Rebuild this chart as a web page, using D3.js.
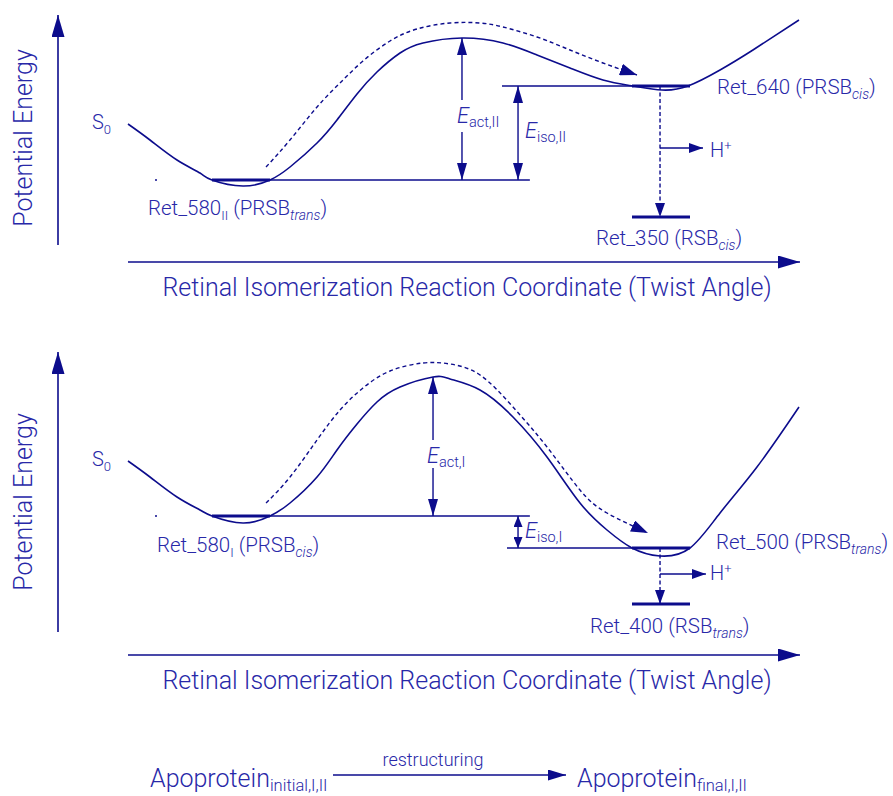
<!DOCTYPE html>
<html><head><meta charset="utf-8">
<script src="https://cdn.jsdelivr.net/npm/d3@7"></script>
<style>body{margin:0;background:#fff}svg{display:block}</style>
</head><body><svg id="c" width="893" height="796"></svg>
<script>
// ---------------- data (reaction coordinate 0..100, energy in arbitrary units) ----------------
const coordDomain = [0, 100];
const energyDomainII = [0, 115];
const energyDomainI = [0, 140];

// Panel II (upper): ground-state potential energy surface S0
const surfaceII = [[0,60.5],[3.27,52.5],[7.29,42.5],[10.71,36],[12.5,32.5],[17.11,29.5],[21.13,32.5],[24.11,39],[28.13,51],[31.1,62.5],[34.08,75.5],[37.05,86.5],[40.48,96],[43.9,101],[49.7,103.5],[55.8,101],[60.86,95],[65.77,88.5],[70.68,82.5],[75.15,79.5],[79.46,77.5],[83.33,79.5],[88.1,87.5],[93.0,97.5],[99.85,112.5]];
// reaction path (dashed arrow) II
const pathII = [[20.54,39],[24.1,52.5],[28.13,69],[31.55,81],[34.97,92],[38.99,102],[43.0,108],[47.92,111],[52.38,111],[55.8,109],[60.86,104],[65.77,97.5],[70.68,91],[75.74,85]];
// levels II: energy, start, end, thick bar start/end
const levelsII = [
  {E:32.5, x0:12.5, x1:59.8, b0:12.5, b1:21.13},
  {E:79.5, x0:55.65, x1:83.63, b0:75, b1:83.63},
  {E:14,   x0:75, x1:83.63, b0:75, b1:83.63}
];
const barrierII = {x:49.7, lo:32.5, hi:103.5, gapLo:56.5, gapHi:72.5};
const isoII = {x:58.04, lo:32.5, hi:79.5};
const deprotII = {x:79.17, from:79.5, to:14, hE:48.5, hTo:85.57};

// Panel I (lower)
const surfaceI = [[0,85.5],[3.27,77.5],[7.29,67.5],[10.71,61],[12.5,58],[17.11,54.5],[21.13,58],[24.11,64.5],[28.13,77.5],[31.1,91],[34.08,104],[37.05,115],[40.48,122.5],[45.39,127.5],[47.92,126.5],[52.38,121],[57.29,107.5],[62.35,87.5],[67.26,64.5],[71.28,51],[75,42],[79.17,38],[83.63,42],[88.1,59.5],[93.6,82.5],[99.85,112.5]];
const pathI = [[20.54,64.5],[24.11,77.5],[28.13,96],[31.55,111],[34.97,122],[38.99,130.5],[43.9,134.5],[47.92,134],[52.38,128.5],[57.29,112.5],[62.35,92.5],[67.26,71],[71.28,59.5],[77.38,49.5]];
const levelsI = [
  {E:58, x0:12.5, x1:59.8, b0:12.5, b1:21.13},
  {E:42, x0:56.4, x1:83.63, b0:75, b1:83.63},
  {E:14, x0:75, x1:83.63, b0:75, b1:83.63}
];
const barrierI = {x:45.39, lo:58, hi:127.5, gapLo:82, gapHi:96};
const isoI = {x:58.04, lo:58, hi:42};
const deprotI = {x:79.17, from:42, to:14, hE:29, hTo:86};
const dotX = 4.17;

// texts
const yTitle = "Potential Energy";
const xTitle = "Retinal Isomerization Reaction Coordinate (Twist Angle)";

// ---------------- drawing ----------------
const INK = "#0c0c8c", TXT = "#2828a8";
const FONT = "Roboto, 'Liberation Sans', Arial, sans-serif";
const svg = d3.select("#c").attr("font-family", FONT).attr("font-weight", 300);
const defs = svg.append("defs");
function marker(id, len, hw) {
  defs.append("marker").attr("id", id)
    .attr("viewBox", `0 ${-hw} ${len} ${2*hw}`)
    .attr("refX", len).attr("refY", 0)
    .attr("markerWidth", len).attr("markerHeight", 2*hw)
    .attr("markerUnits", "userSpaceOnUse")
    .attr("orient", "auto-start-reverse")
    .append("path").attr("d", `M0,${-hw}L${len},0L0,${hw}Z`).attr("fill", INK);
}
marker("axis", 22, 6.5); marker("gap", 17, 5); marker("small", 14, 5); marker("pth", 17, 6); marker("foot", 18, 5.5); marker("isoS", 11, 4.5);

function rich(g, x, y, parts, size, opts) {
  opts = opts || {};
  const t = g.append("text").attr("x", x).attr("y", y).attr("font-size", size)
    .attr("fill", TXT).attr("text-anchor", opts.anchor || "start");
  if (opts.transform) t.attr("transform", opts.transform);
  let cur = 0;
  parts.forEach(p => {
    const target = p.shift || 0;
    const s = t.append("tspan").text(p.t).attr("dy", target - cur);
    cur = target;
    if (p.size) s.attr("font-size", p.size);
    if (p.it) s.attr("font-style", "italic");
  });
  return t;
}

const x = d3.scaleLinear().domain(coordDomain).range([128, 800]);

function panel(cfg) {
  const g = svg.append("g");
  const y = d3.scaleLinear().domain(cfg.energyDomain).range([cfg.bottom, cfg.top]);
  // axes
  g.append("line").attr("x1", 58).attr("x2", 58).attr("y1", y(cfg.energyDomain[0])).attr("y2", y(cfg.energyDomain[1]))
    .attr("stroke", INK).attr("stroke-width", 1.6).attr("marker-end", "url(#axis)");
  g.append("line").attr("x1", x(coordDomain[0])).attr("x2", x(coordDomain[1])).attr("y1", cfg.xAxisY).attr("y2", cfg.xAxisY)
    .attr("stroke", INK).attr("stroke-width", 1.6).attr("marker-end", "url(#axis)");
  rich(g, 0, 0, [{t: yTitle}], 25, {anchor: "middle", transform: `translate(32,${cfg.yTitleY}) rotate(-90)`});
  rich(g, 467, cfg.xAxisY + 34, [{t: xTitle}], 25, {anchor: "middle"});

  const line = d3.line().x(d => x(d[0])).y(d => y(d[1])).curve(d3.curveNatural);
  // levels
  cfg.levels.forEach(l => {
    g.append("line").attr("x1", x(l.x0)).attr("x2", x(l.x1)).attr("y1", y(l.E)).attr("y2", y(l.E))
      .attr("stroke", INK).attr("stroke-width", 1.4);
    g.append("line").attr("x1", x(l.b0)).attr("x2", x(l.b1)).attr("y1", y(l.E)).attr("y2", y(l.E))
      .attr("stroke", INK).attr("stroke-width", 3);
  });
  g.append("circle").attr("cx", x(dotX)).attr("cy", y(cfg.levels[0].E)).attr("r", 1).attr("fill", INK);
  // surface
  g.append("path").attr("d", line(cfg.surface)).attr("fill", "none").attr("stroke", INK).attr("stroke-width", 1.6);
  // reaction path
  g.append("path").attr("d", line(cfg.path)).attr("fill", "none").attr("stroke", INK).attr("stroke-width", 1.4)
    .attr("stroke-dasharray", "4,3").attr("marker-end", "url(#pth)");
  // barrier arrow with gap
  const b = cfg.barrier;
  g.append("line").attr("x1", x(b.x)).attr("x2", x(b.x)).attr("y1", y(b.gapHi)).attr("y2", y(b.hi))
    .attr("stroke", INK).attr("stroke-width", 1.4).attr("marker-end", "url(#gap)");
  g.append("line").attr("x1", x(b.x)).attr("x2", x(b.x)).attr("y1", y(b.gapLo)).attr("y2", y(b.lo))
    .attr("stroke", INK).attr("stroke-width", 1.4).attr("marker-end", "url(#gap)");
  // isomerization energy arrow
  const i = cfg.iso;
  g.append("line").attr("x1", x(i.x)).attr("x2", x(i.x)).attr("y1", y(i.lo)).attr("y2", y(i.hi))
    .attr("stroke", INK).attr("stroke-width", 1.4).attr("marker-start", "url(#" + cfg.isoMarker + ")").attr("marker-end", "url(#" + cfg.isoMarker + ")");
  // deprotonation
  const d = cfg.deprot;
  g.append("line").attr("x1", x(d.x)).attr("x2", x(d.x)).attr("y1", y(d.from)).attr("y2", y(d.to))
    .attr("stroke", INK).attr("stroke-width", 1.4).attr("stroke-dasharray", "4,2.5").attr("marker-end", "url(#small)");
  g.append("line").attr("x1", x(d.x)).attr("x2", x(d.hTo)).attr("y1", y(d.hE)).attr("y2", y(d.hE))
    .attr("stroke", INK).attr("stroke-width", 1.4).attr("marker-end", "url(#small)");
  cfg.labels(g);
}

panel({
  energyDomain: energyDomainII, bottom: 245, top: 15, xAxisY: 262, yTitleY: 138,
  surface: surfaceII, path: pathII, levels: levelsII, barrier: barrierII, iso: isoII, deprot: deprotII, isoMarker: "gap",
  labels: g => {
    rich(g, 92, 129, [{t:"S"},{t:"0", size:13, shift:5}], 20);
    rich(g, 148, 215, [{t:"Ret_580"},{t:"II", size:13, shift:5},{t:" (PRSB"},{t:"trans", size:14, shift:5, it:true},{t:")"}], 20.5);
    rich(g, 717, 94, [{t:"Ret_640 (PRSB"},{t:"cis", size:14, shift:5, it:true},{t:")"}], 20.5);
    rich(g, 596, 245, [{t:"Ret_350 (RSB"},{t:"cis", size:14, shift:5, it:true},{t:")"}], 20.5);
    rich(g, 710, 157, [{t:"H"},{t:"+", size:13, shift:-7}], 20);
    rich(g, 457, 123, [{t:"E", it:true},{t:"act,II", size:14.5, shift:4}], 21.5);
    rich(g, 525, 138, [{t:"E", it:true},{t:"iso,II", size:14.5, shift:4}], 21.5);
  }
});

panel({
  energyDomain: energyDomainI, bottom: 632, top: 352, xAxisY: 655, yTitleY: 502,
  surface: surfaceI, path: pathI, levels: levelsI, barrier: barrierI, iso: isoI, deprot: deprotI, isoMarker: "isoS",
  labels: g => {
    rich(g, 92, 466, [{t:"S"},{t:"0", size:13, shift:5}], 20);
    rich(g, 157, 552, [{t:"Ret_580"},{t:"I", size:13, shift:5},{t:" (PRSB"},{t:"cis", size:14, shift:5, it:true},{t:")"}], 20.5);
    rich(g, 716, 549, [{t:"Ret_500 (PRSB"},{t:"trans", size:14, shift:5, it:true},{t:")"}], 20.5);
    rich(g, 590, 633, [{t:"Ret_400 (RSB"},{t:"trans", size:14, shift:5, it:true},{t:")"}], 20.5);
    rich(g, 710, 580, [{t:"H"},{t:"+", size:13, shift:-7}], 20);
    rich(g, 427, 463, [{t:"E", it:true},{t:"act,I", size:14.5, shift:4}], 21.5);
    rich(g, 525, 538, [{t:"E", it:true},{t:"iso,I", size:14.5, shift:4}], 21.5);
  }
});

// footer: apoprotein restructuring
const foot = svg.append("g");
rich(foot, 150, 787, [{t:"Apoprotein"},{t:"initial,I,II", size:16.5, shift:4}], 25);
foot.append("line").attr("x1", 333).attr("x2", 566).attr("y1", 775).attr("y2", 775)
  .attr("stroke", INK).attr("stroke-width", 1.6).attr("marker-end", "url(#foot)");
rich(foot, 433, 766, [{t:"restructuring"}], 18, {anchor:"middle"});
rich(foot, 577, 787, [{t:"Apoprotein"},{t:"final,I,II", size:16.5, shift:4}], 25);
</script></body></html>
